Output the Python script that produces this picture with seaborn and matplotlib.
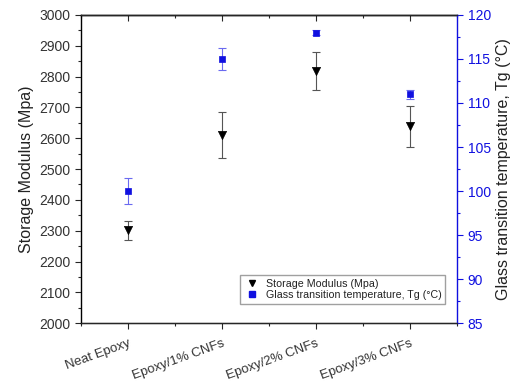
import matplotlib
matplotlib.use("Agg")
import matplotlib.pyplot as plt
import seaborn as sns
import pandas as pd
import numpy as np
from matplotlib.ticker import MultipleLocator
from matplotlib.lines import Line2D

categories = ["Neat Epoxy", "Epoxy/1% CNFs", "Epoxy/2% CNFs", "Epoxy/3% CNFs"]
modulus = [2302, 2610, 2817, 2638]
modulus_err = [31, 74, 62, 65]
tg = [100.0, 115.0, 118.0, 111.0]
tg_err = [1.5, 1.2, 0.3, 0.5]

sns.set_style("ticks")
plt.rcParams['font.family'] = ['Liberation Sans', 'DejaVu Sans']

df = pd.DataFrame({"cat": categories, "mod": modulus, "mod_err": modulus_err,
                   "tg": tg, "tg_err": tg_err})
xpos = np.arange(len(categories))

fig = plt.figure(figsize=(5.12, 3.82), dpi=100)
ax = fig.add_axes([0.158, 0.154, 0.735, 0.807])
ax2 = ax.twinx()

blue = "#1010e0"
dark = "#333333"

ax.errorbar(xpos, df["mod"], yerr=df["mod_err"], fmt="none", ecolor="#555555",
            elinewidth=0.8, capsize=3, capthick=0.8, zorder=2)
sns.scatterplot(x=xpos, y=df["mod"], ax=ax, marker="v", color="black", s=35,
                edgecolor="black", linewidth=0.5, zorder=3, legend=False)

ax2.errorbar(xpos, df["tg"], yerr=df["tg_err"], fmt="none", ecolor="#6a6af0",
             elinewidth=0.8, capsize=3, capthick=0.8, zorder=2)
sns.scatterplot(x=xpos, y=df["tg"], ax=ax2, marker="s", color=blue, s=22,
                edgecolor=blue, linewidth=0.5, zorder=3, legend=False)

ax.set_xlim(-0.5, 3.5)
ax.set_ylim(2000, 3000)
ax2.set_ylim(85, 120)

ax.set_xticks(xpos)
ax.set_xticklabels(categories, rotation=20, ha="right", fontsize=9.5,
                   rotation_mode="anchor", color=dark)
ax.xaxis.set_minor_locator(MultipleLocator(0.5))
ax.yaxis.set_major_locator(MultipleLocator(100))
ax.yaxis.set_minor_locator(MultipleLocator(50))
ax2.yaxis.set_major_locator(MultipleLocator(5))
ax2.yaxis.set_minor_locator(MultipleLocator(2.5))

ax.tick_params(axis="x", which="both", direction="out", top=False,
               labelsize=9.5, pad=6)
ax.tick_params(axis="y", which="both", direction="out", labelsize=10,
               right=False, labelcolor=dark)
ax.tick_params(which="major", length=4, width=0.8)
ax.tick_params(which="minor", length=2.5, width=0.8)
ax2.tick_params(axis="y", which="both", direction="out", colors=blue, labelsize=10)
ax2.tick_params(which="major", length=4, width=0.8)
ax2.tick_params(which="minor", length=2.5, width=0.8)

# inward ticks along the top spine
ax_top = ax.secondary_xaxis("top")
ax_top.set_xticks(xpos)
ax_top.xaxis.set_minor_locator(MultipleLocator(0.5))
ax_top.tick_params(which="both", direction="in", labeltop=False, width=0.8)
ax_top.tick_params(which="major", length=4)
ax_top.tick_params(which="minor", length=2.5)
ax_top.spines["top"].set_linewidth(1.0)

for s in ["left", "bottom", "top"]:
    ax.spines[s].set_visible(True)
    ax.spines[s].set_color("black")
    ax.spines[s].set_linewidth(1.0)
ax2.spines["right"].set_visible(True)
ax2.spines["right"].set_color(blue)
ax2.spines["right"].set_linewidth(1.0)
ax2.spines["top"].set_visible(True)
ax2.spines["left"].set_visible(False)
ax.spines["right"].set_visible(False)

ax.set_ylabel("Storage Modulus (Mpa)", fontsize=11.5, color="#222222")
ax2.set_ylabel("Glass transition temperature, Tg (°C)", fontsize=11.5,
               color="#222222")
ax.set_xlabel("")

handles = [
    Line2D([], [], marker="v", color="black", linestyle="none", markersize=5),
    Line2D([], [], marker="s", color=blue, linestyle="none", markersize=4),
]
ax2.legend(handles, ["Storage Modulus (Mpa)", "Glass transition temperature, Tg (°C)"],
           loc="lower right", bbox_to_anchor=(0.983, 0.045), fontsize=7.7,
           frameon=True, fancybox=False, edgecolor="#888888", handlelength=1.6,
           borderpad=0.35, labelspacing=0.15, handletextpad=0.5,
           labelcolor="#222222")

fig.savefig("out.png", dpi=100)
